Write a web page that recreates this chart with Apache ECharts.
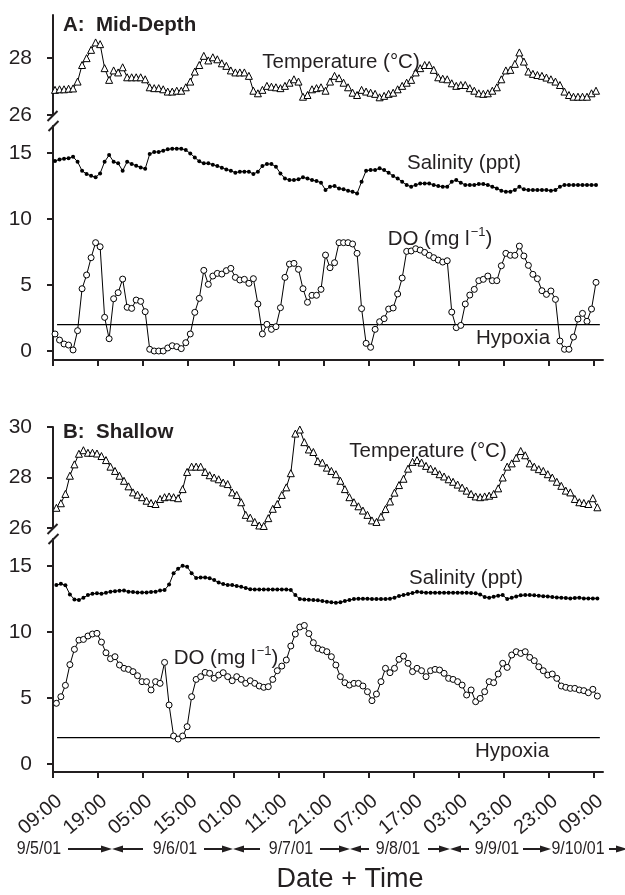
<!DOCTYPE html>
<html><head><meta charset="utf-8">
<script src="https://cdn.jsdelivr.net/npm/echarts@6/dist/echarts.min.js"></script>
<style>html,body{margin:0;padding:0;background:#fff}#c{width:625px;height:895px}</style>
</head><body><div id="c"></div>
<script>
// ---- data (hourly readings, 9/5/01 09:00 -> 9/10/01 09:00) ----
const timeLabels = ['09:00','19:00','05:00','15:00','01:00','11:00','21:00','07:00','17:00','03:00','13:00','23:00','09:00'];
const tickHours = [0,10,20,30,40,50,60,70,80,90,100,110,120];
const dateLabels = ['9/5/01','9/6/01','9/7/01','9/8/01','9/9/01','9/10/01'];
const hypoxiaDO = 2;

const tempA = [26.88,26.90,26.90,26.92,26.93,27.17,27.75,27.99,28.28,28.54,
28.48,27.64,27.23,27.56,27.49,27.67,27.32,27.32,27.32,27.32,
27.25,26.97,26.94,26.94,26.90,26.82,26.82,26.85,26.85,26.97,
27.17,27.52,27.75,28.07,27.91,28.02,27.95,27.81,27.72,27.56,
27.49,27.49,27.49,27.37,26.85,26.76,26.88,27.02,26.99,26.97,
26.94,27.02,27.13,27.25,27.17,26.64,26.70,26.90,26.94,26.97,
26.85,27.17,27.37,27.29,27.13,26.97,26.78,26.70,26.88,26.82,
26.78,26.74,26.62,26.67,26.74,26.78,26.90,27.02,27.13,27.23,
27.49,27.64,27.75,27.75,27.58,27.32,27.27,27.25,27.11,27.02,
27.05,27.05,26.94,26.85,26.76,26.74,26.76,26.85,26.97,27.25,
27.56,27.58,27.79,28.19,27.87,27.52,27.44,27.40,27.37,27.31,
27.25,27.17,27.05,26.82,26.70,26.64,26.64,26.64,26.64,26.76,
26.85];
const salA = [14.39,14.52,14.57,14.60,14.72,14.34,13.66,13.41,13.28,13.16,
13.46,14.34,14.85,14.34,14.22,13.66,14.34,14.17,14.04,13.91,
13.81,14.92,15.08,15.08,15.18,15.28,15.33,15.33,15.33,15.23,
14.97,14.67,14.37,14.22,14.22,14.12,14.02,13.89,13.76,13.66,
13.51,13.59,13.59,13.59,13.41,13.59,14.02,14.17,14.17,13.96,
13.46,13.08,12.95,12.95,13.01,13.16,13.08,12.95,12.88,12.75,
12.20,12.45,12.50,12.32,12.25,12.15,12.07,11.94,12.83,13.66,
13.71,13.71,13.84,13.71,13.51,13.26,13.08,12.83,12.58,12.45,
12.58,12.70,12.70,12.70,12.58,12.50,12.45,12.45,12.83,12.95,
12.75,12.58,12.58,12.58,12.65,12.65,12.58,12.45,12.32,12.15,
12.07,12.07,12.20,12.45,12.25,12.20,12.20,12.20,12.20,12.20,
12.15,12.20,12.45,12.58,12.58,12.58,12.58,12.58,12.58,12.58,
12.58];
const doA = [1.29,0.83,0.53,0.45,0.08,1.54,4.72,5.76,7.07,8.21,
7.90,2.55,0.93,3.96,4.42,5.45,3.31,3.23,3.86,3.76,
2.98,0.13,0.00,0.00,0.00,0.23,0.40,0.33,0.18,0.63,
1.29,2.93,3.99,6.11,5.05,5.68,5.88,5.83,6.09,6.26,
5.58,5.38,5.43,5.13,5.48,3.56,1.29,2.02,1.64,1.84,
3.28,5.58,6.59,6.64,6.19,4.72,3.69,4.22,4.22,4.67,
7.27,6.31,6.69,8.21,8.21,8.21,8.11,7.40,3.21,0.58,
0.28,1.64,2.22,2.45,3.18,3.26,4.32,5.53,7.55,7.58,
7.75,7.65,7.47,7.25,7.07,6.89,6.74,6.84,2.95,1.77,
1.94,3.56,4.24,4.67,5.33,5.43,5.68,5.33,5.33,6.46,
7.40,7.25,7.25,7.95,7.20,6.49,5.81,5.48,4.57,4.29,
4.55,3.91,0.76,0.13,0.13,1.06,2.42,2.85,2.25,3.18,
5.20];

const tempB = [26.80,26.98,27.35,28.07,28.52,28.94,29.08,28.98,28.98,28.95,
28.85,28.69,28.43,28.26,28.07,27.87,27.65,27.41,27.32,27.22,
27.08,26.99,26.95,27.15,27.22,27.25,27.22,27.18,27.54,28.22,
28.43,28.43,28.43,28.22,28.09,28.00,27.93,27.80,27.74,27.41,
27.31,27.02,26.52,26.41,26.24,26.10,26.08,26.39,26.76,26.95,
27.31,27.61,28.17,29.74,29.90,29.40,29.11,29.01,28.65,28.59,
28.39,28.26,28.13,27.87,27.54,27.22,27.02,26.86,26.69,26.52,
26.30,26.24,26.45,26.75,27.05,27.40,27.70,27.95,28.35,28.62,
28.69,28.59,28.46,28.35,28.26,28.13,28.04,27.93,27.83,27.72,
27.60,27.48,27.35,27.25,27.22,27.25,27.28,27.35,27.57,28.00,
28.43,28.56,28.78,29.05,28.88,28.56,28.43,28.33,28.26,28.13,
28.00,27.83,27.67,27.48,27.41,27.15,27.02,26.99,26.95,27.18,
26.82];
const salB = [13.56,13.65,13.55,12.85,12.47,12.42,12.60,12.80,12.90,12.93,
12.90,12.98,13.06,13.10,13.13,13.15,13.06,13.03,13.00,13.00,
13.00,13.04,13.06,13.15,13.18,13.60,14.45,14.80,15.02,14.95,
14.45,14.10,14.14,14.14,14.08,13.94,13.75,13.64,13.56,13.56,
13.48,13.43,13.33,13.25,13.23,13.23,13.23,13.23,13.23,13.23,
13.23,13.23,13.18,12.80,12.50,12.47,12.45,12.42,12.40,12.35,
12.30,12.25,12.22,12.25,12.35,12.42,12.50,12.52,12.52,12.52,
12.50,12.50,12.50,12.50,12.52,12.60,12.73,12.80,12.88,12.95,
13.05,13.02,12.98,12.98,12.98,12.98,12.98,12.98,12.98,12.98,
12.98,12.98,12.95,12.93,12.85,12.65,12.60,12.68,12.75,12.80,
12.50,12.60,12.70,12.78,12.80,12.80,12.78,12.75,12.72,12.70,
12.65,12.62,12.60,12.58,12.55,12.58,12.60,12.55,12.55,12.55,
12.55];
const doB = [4.60,5.10,5.96,7.53,8.69,9.39,9.44,9.70,9.85,9.90,
9.24,8.43,7.98,8.13,7.50,7.25,7.17,7.00,6.69,6.24,
6.24,5.61,6.24,6.11,7.70,4.47,2.12,1.89,2.12,2.83,
5.10,6.41,6.62,6.94,6.87,6.49,6.74,6.92,6.62,6.31,
6.62,6.41,6.11,6.31,6.11,5.91,5.81,5.86,6.41,7.07,
7.42,7.88,8.94,9.85,10.38,10.50,9.88,9.19,8.76,8.64,
8.51,8.13,7.50,6.62,6.16,5.98,6.11,6.11,5.91,5.48,
4.80,5.30,6.24,7.25,6.92,7.25,7.93,8.18,7.63,7.00,
7.25,7.07,6.62,7.07,7.17,7.12,6.87,6.49,6.41,6.24,
5.98,5.23,5.61,4.72,4.97,5.48,6.24,6.16,6.82,7.63,
7.32,8.26,8.51,8.38,8.51,8.08,7.83,7.37,7.07,6.74,
6.82,6.49,5.91,5.81,5.73,5.73,5.61,5.56,5.40,5.66,
5.15];

// ---- presentation ----
const INK = '#231f20';
const FONT = "'Liberation Sans', Arial, Helvetica, sans-serif";
const offA = 0.45, offB = 0.75;
const hypSpan = [0.9, 121.3];

function pts(arr, off){ return arr.map((v,i)=>[i+off, v]); }

const chart = echarts.init(document.getElementById('c'), null, {renderer:'canvas'});

function xAx(grid, show, labels){
  return {type:'value', gridIndex:grid, min:0, max:122, show:show,
    axisLine:{show:true, onZero:false, lineStyle:{color:INK, width:2}},
    axisTick:{show:true, length:6, lineStyle:{color:INK, width:2}, customValues:tickHours},
    axisLabel:{show:labels, customValues:tickHours, rotate:40, margin:19, verticalAlign:'top',
      color:INK, fontFamily:FONT, fontSize:20,
      formatter:(v)=>{const k=tickHours.indexOf(Math.round(v)); return k>=0?timeLabels[k]:'';}},
    splitLine:{show:false}};
}
function yAx(grid, min, max, ticks){
  return {type:'value', gridIndex:grid, min:min, max:max,
    axisLine:{show:true, onZero:false, lineStyle:{color:INK, width:2}},
    axisTick:{show:true, length:6, lineStyle:{color:INK, width:2}, customValues:ticks},
    axisLabel:{show:true, customValues:ticks, margin:21, color:INK, fontFamily:FONT, fontSize:21},
    splitLine:{show:false}};
}
const lineSty = {color:'#000', width:1};
function tSeries(data, xi){ return {type:'line', xAxisIndex:xi, yAxisIndex:xi, data:data, symbol:'triangle', symbolSize:7,
  lineStyle:lineSty, itemStyle:{color:'#fff', borderColor:'#000', borderWidth:1}, animation:false, z:3}; }
function sSeries(data, xi){ return {type:'line', xAxisIndex:xi, yAxisIndex:xi, data:data, symbol:'circle', symbolSize:4,
  lineStyle:lineSty, itemStyle:{color:'#000', borderColor:'#000', borderWidth:0}, animation:false, z:3}; }
function dSeries(data, xi){ return {type:'line', xAxisIndex:xi, yAxisIndex:xi, data:data, symbol:'circle', symbolSize:6,
  lineStyle:lineSty, itemStyle:{color:'#fff', borderColor:'#000', borderWidth:1}, animation:false, z:3}; }
function hSeries(xi){ return {type:'line', xAxisIndex:xi, yAxisIndex:xi, data:[[hypSpan[0],hypoxiaDO],[hypSpan[1],hypoxiaDO]],
  symbol:'none', lineStyle:{color:'#000', width:1.3}, animation:false, z:2}; }

// annotations
const g = [];
function txt(s, x, y, size, opts){
  opts = opts || {};
  g.push({type:'text', z:10, x:x, y:y, scaleX:opts.sx||1,
    style:{text:s, x:0, y:0, fill:INK,
      font:(opts.bold?'bold ':'')+size+'px '+FONT, align:opts.align||'center', verticalAlign:'middle'}});
}
function doLabel(x, y){
  g.push({type:'text', z:10, x:x, y:y, style:{x:0, y:0, align:'center', verticalAlign:'middle',
    text:'{a|DO (mg l}{s|−1}{a|)}',
    rich:{a:{fontFamily:FONT, fontSize:20.5, fill:INK, color:INK, lineHeight:24, verticalAlign:'bottom'},
          s:{fontFamily:FONT, fontSize:13, fill:INK, color:INK, lineHeight:24, verticalAlign:'top', padding:[0,0,0,1]}}}});
}
function seg(x1,y1,x2,y2,w){ g.push({type:'line', z:10, shape:{x1:x1,y1:y1,x2:x2,y2:y2}, style:{stroke:INK, lineWidth:w||2}}); }
function arrow(x1, x2, y){
  const dir = x2 > x1 ? 1 : -1;
  seg(x1, y, x2 - dir*9, y, 2);
  g.push({type:'polygon', z:10, shape:{points:[[x2,y],[x2-dir*11,y-3.5],[x2-dir*11,y+3.5]]}, style:{fill:INK}});
}

// titles
txt('A:  Mid-Depth', 63, 25, 20.5, {bold:true, align:'left'});
txt('B:  Shallow', 63, 432, 20.5, {bold:true, align:'left'});
// series labels
txt('Temperature (°C)', 341, 62, 20.5);
txt('Salinity (ppt)', 464, 163, 20.5);
doLabel(440, 238);
txt('Hypoxia', 513, 338, 20.5);
txt('Temperature (°C)', 428, 451, 20.5);
txt('Salinity (ppt)', 466, 578, 20.5);
doLabel(226, 657);
txt('Hypoxia', 512, 751, 20.5);
// axis breaks
seg(47.5,121,57.5,111); seg(48.5,131,58.5,121);
seg(47.5,534,57.5,524); seg(48.5,544,58.5,534);
// date row
const dateX = [39, 175, 291, 398, 497, 578];
dateLabels.forEach((d,k)=>txt(d, dateX[k], 849, 19, {sx:0.84}));
arrow(68,112,849); arrow(143,112,849);
arrow(204,233,849); arrow(260,233,849);
arrow(320,350,849); arrow(369,350,849);
arrow(428,450,849); arrow(469,450,849);
arrow(523,551,849);
arrow(609,627,849);
txt('Date + Time', 350, 880, 27);

chart.setOption({
  animation:false,
  backgroundColor:'#fff',
  grid:[
    {left:53, top:15, width:550, height:100},
    {left:53, top:126, width:550, height:234},
    {left:53, top:427, width:550, height:101},
    {left:53, top:539, width:550, height:233}
  ],
  xAxis:[xAx(0,false,false), xAx(1,true,false), xAx(2,false,false), xAx(3,true,true)],
  yAxis:[
    yAx(0, 26, 29.5, [26,28]),
    yAx(1, -0.682, 17.05, [0,5,10,15]),
    yAx(2, 26, 30, [26,28,30]),
    yAx(3, -0.606, 17.05, [0,5,10,15])
  ],
  series:[
    tSeries(pts(tempA,offA),0),
    sSeries(pts(salA,offA),1), dSeries(pts(doA,offA),1), hSeries(1),
    tSeries(pts(tempB,offB),2),
    sSeries(pts(salB,offB),3), dSeries(pts(doB,offB),3), hSeries(3)
  ],
  graphic:g
});
</script></body></html>
